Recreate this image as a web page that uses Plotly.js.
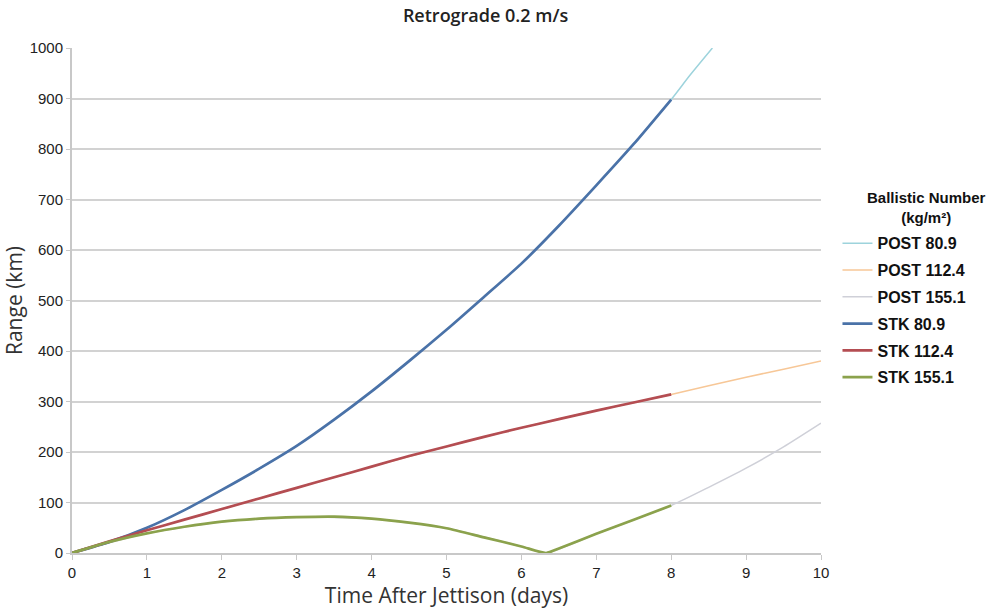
<!DOCTYPE html>
<html>
<head>
<meta charset="utf-8">
<script src="https://cdn.plot.ly/plotly-3.0.1.min.js"></script>
<style>html,body{margin:0;padding:0;background:#fff}#chart{width:995px;height:615px}</style>
</head>
<body>
<div id="chart"></div>
<script>
// Time after jettison (days) and range (km)
const stk809_x = [0, 0.5, 1, 1.5, 2, 2.5, 3, 3.5, 4, 4.5, 5, 5.5, 6, 6.5, 7, 7.5, 8];
const stk809_y = [0, 22, 50, 85, 125, 167, 212, 264, 320, 380, 442, 507, 573, 648, 728, 810, 898];
const post809_x = [0, 0.5, 1, 1.5, 2, 2.5, 3, 3.5, 4, 4.5, 5, 5.5, 6, 6.5, 7, 7.5, 8, 8.25, 8.55];
const post809_y = [0, 22, 50, 85, 125, 167, 212, 264, 320, 380, 442, 507, 573, 648, 728, 810, 898, 946, 1000];

const stk1124_x = [0, 0.5, 1, 1.5, 2, 2.5, 3, 3.5, 4, 4.5, 5, 5.5, 6, 6.5, 7, 7.5, 8];
const stk1124_y = [0, 23, 45, 66, 87, 108, 129, 150, 171, 192, 211, 230, 248, 265, 282, 298, 314];
const post1124_x = [0, 1, 2, 3, 4, 5, 6, 7, 8, 8.5, 9, 9.5, 10];
const post1124_y = [0, 45, 87, 129, 171, 211, 248, 282, 314, 331, 348, 364, 380];

const stk1551_x = [0, 0.5, 1, 1.5, 2, 2.5, 3, 3.5, 4, 4.5, 5, 5.5, 6, 6.33, 6.5, 7, 7.5, 8];
const stk1551_y = [0, 22, 39, 52, 62, 68, 71, 72, 68, 60, 49, 31, 13, 0, 9, 38, 66, 94];
const post1551_x = [0, 1, 2, 3, 4, 5, 6, 6.33, 7, 8, 8.5, 9, 9.5, 10];
const post1551_y = [0, 39, 62, 71, 68, 49, 13, 0, 38, 94, 130, 168, 210, 257];

const xTicks = [0, 1, 2, 3, 4, 5, 6, 7, 8, 9, 10];
const yTicks = [0, 100, 200, 300, 400, 500, 600, 700, 800, 900, 1000];

const names = ['POST 80.9', 'POST 112.4', 'POST 155.1', 'STK 80.9', 'STK 112.4', 'STK 155.1'];
const colors = ['#9dd3dc', '#f7c797', '#cfd0d8', '#4a72a8', '#b44d52', '#8ba24c'];
const widths = [1.5, 1.5, 1.5, 2.7, 2.7, 2.7];
const xs = [post809_x, post1124_x, post1551_x, stk809_x, stk1124_x, stk1551_x];
const ys = [post809_y, post1124_y, post1551_y, stk809_y, stk1124_y, stk1551_y];

const traces = names.map((n, i) => ({
  type: 'scatter', mode: 'lines', name: n, x: xs[i], y: ys[i],
  line: {color: colors[i], width: widths[i], shape: 'spline', smoothing: 0.6},
  legendgroup: 'g' + i
}));

const layout = {
  width: 995, height: 615,
  margin: {l: 72, r: 174, t: 48, b: 62},
  paper_bgcolor: '#fff', plot_bgcolor: '#fff',
  title: {text: 'Retrograde 0.2 m/s', x: 0.488, xref: 'container', xanchor: 'center',
          y: 0.975, yanchor: 'middle',
          font: {family: 'Open Sans', size: 18, color: '#222', weight: 600}},
  xaxis: {
    range: [0, 10], tickvals: xTicks, ticktext: xTicks.map(String),
    showgrid: false, zeroline: false, showline: true, linecolor: '#c8c8c8', linewidth: 2,
    ticks: 'outside', ticklen: 5, tickcolor: '#c8c8c8', tickwidth: 1,
    tickfont: {family: 'Liberation Sans, Arial', size: 15, color: '#222'},
    title: {text: 'Time After Jettison (days)', standoff: 6,
            font: {family: 'Open Sans', size: 21, color: '#333'}}
  },
  yaxis: {
    range: [0, 1000], tickvals: yTicks, ticktext: yTicks.map(String),
    showgrid: true, gridcolor: '#d2d2d2', gridwidth: 2, zeroline: false,
    showline: true, linecolor: '#c8c8c8', linewidth: 2,
    ticks: 'outside', ticklen: 4, tickcolor: '#c8c8c8', tickwidth: 1,
    tickfont: {family: 'Liberation Sans, Arial', size: 15, color: '#222'},
    title: {text: 'Range (km)', standoff: 8,
            font: {family: 'Open Sans', size: 21, color: '#333'}}
  },
  legend: {
    x: 1.022, xanchor: 'left', y: 0.647, yanchor: 'top',
    font: {family: 'Liberation Sans, Arial', size: 16, color: '#111', weight: 'bold'},
    tracegroupgap: 3, itemwidth: 30, bgcolor: 'rgba(0,0,0,0)'
  },
  annotations: [{
    text: 'Ballistic Number<br>(kg/m²)', xref: 'paper', yref: 'paper',
    x: 1.1415, y: 0.685, xanchor: 'center', yanchor: 'middle', align: 'center', showarrow: false,
    font: {family: 'Liberation Sans, Arial', size: 15, color: '#111', weight: 'bold'}
  }],
  showlegend: true
};

Plotly.newPlot('chart', traces, layout, {displayModeBar: false, staticPlot: true});
</script>
</body>
</html>
